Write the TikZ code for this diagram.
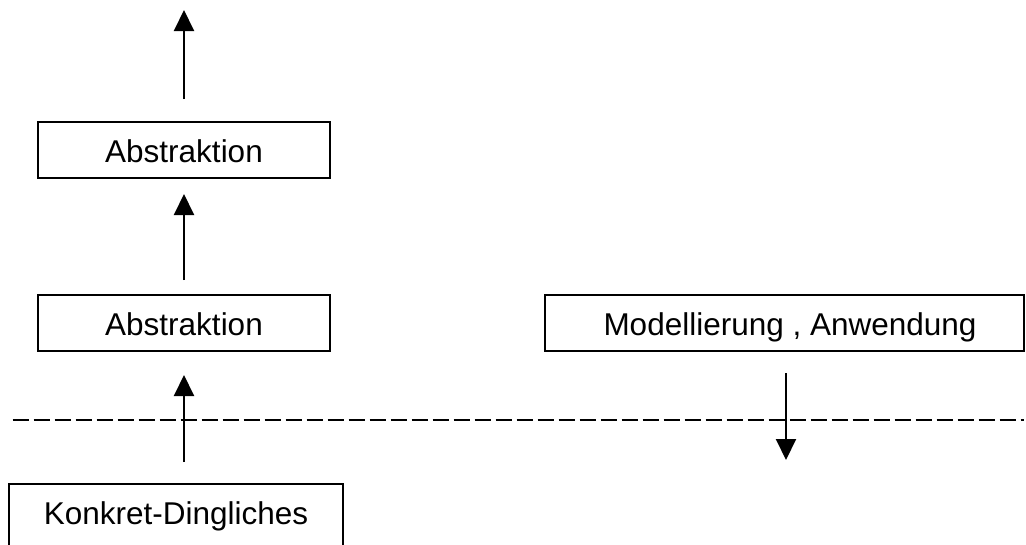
\documentclass[tikz,border=0pt]{standalone}
\usepackage{fontspec}
\setmainfont{Liberation Sans}
\usetikzlibrary{arrows.meta}
\begin{document}
\begin{tikzpicture}[x=1pt,y=-1pt,
  box/.style={draw, line width=2pt, font=\fontsize{31.5}{38}\selectfont,
    text height=25.4pt, text depth=0pt, inner ysep=15.3pt, inner xsep=0pt, anchor=north},
  arr/.style={line width=2pt, -{Triangle[width=20pt,length=21pt]}},
  sep/.style={line width=2pt, dash pattern=on 16.7pt off 4.3pt}]
\useasboundingbox (0,0) rectangle (1026,544);
\clip (0,0) rectangle (1026,544);
\fill[white] (0,0) rectangle (1026,544);
\node[box, minimum width=292pt] (top) at (184,121) {Abstraktion};
\node[box, minimum width=292pt] (abs) at (184,294) {Abstraktion};
\node[box, minimum width=479pt] (mod) at (784.5,294) {\hspace*{11pt}Modellierung , Anwendung};
\node[box, minimum width=334pt, text depth=14pt] (kon) at (176,483) {Konkret-Dingliches};
\coordinate (up) at (184,10);
\coordinate (down) at (786,460);
\coordinate (dl) at (12.7,420);
\coordinate (dr) at (1024,420);
\draw[sep] (dl) -- (dr);
\draw[arr, shorten <=22pt] (top.north) -- (up);
\draw[arr, shorten <=14pt, shorten >=15pt] (abs.north) -- (top.south);
\draw[arr, shorten <=21pt, shorten >=23pt] (abs.south |- kon.north) -- (abs.south);
\draw[arr, shorten <=21pt] (mod.south -| down) -- (down);
\end{tikzpicture}
\end{document}
